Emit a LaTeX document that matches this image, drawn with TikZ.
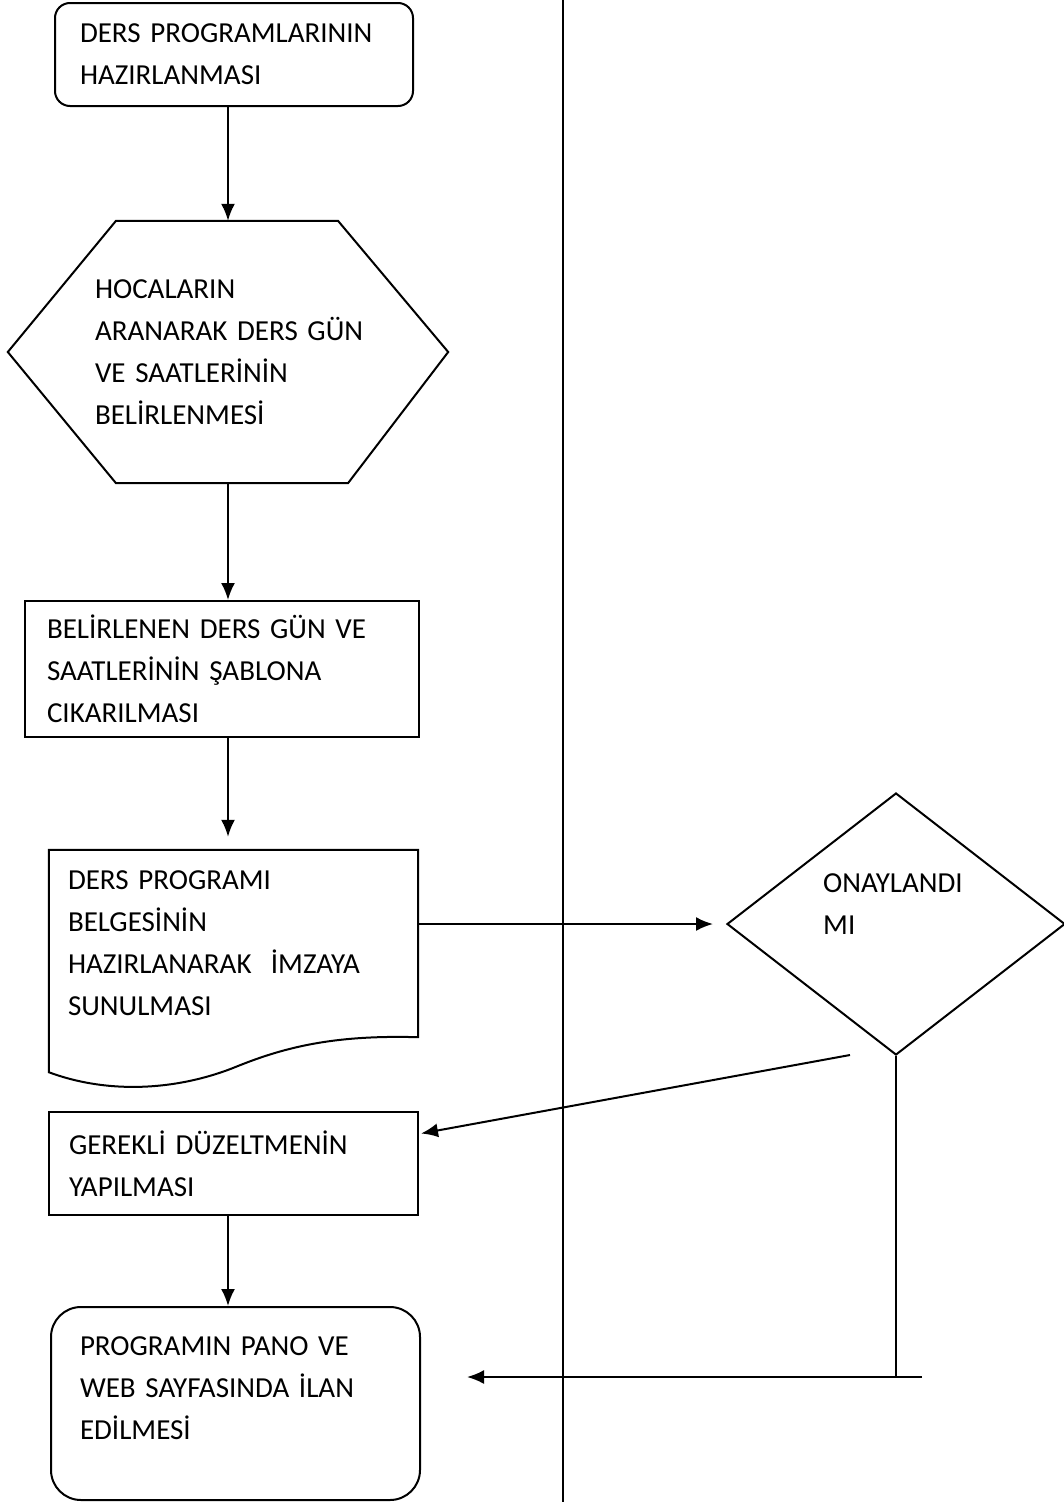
\documentclass[tikz,border=0pt]{standalone}
\usepackage{fontspec}
\setmainfont{Carlito}
\usetikzlibrary{shapes.geometric}
\usetikzlibrary{arrows.meta}
\usetikzlibrary{calc}

\begin{document}
\begin{tikzpicture} [
    x=1pt, y=-1pt,
    font=\fontsize{29}{42}\selectfont,
    block/.style    = { rectangle, draw=black, line width=2pt,
                        align=left, inner ysep=0pt },
    rblock/.style   = { block, rounded corners=15pt },
    shapebox/.style = { rectangle, align=left, inner ysep=0pt },
    decision/.style = { diamond, draw=black, line width=2pt, inner sep=0pt },
    line/.style     = { draw, line width=2pt, -{Latex[length=17pt, width=14pt]} },
    plain/.style    = { draw, line width=2pt },
  ]
\useasboundingbox (0,0) rectangle (1064,1502);

\node [rblock, minimum width=358, minimum height=103, text width=308, inner xsep=25]
    (start) at (234,54.5) {DERS PROGRAMLARININ\\HAZIRLANMASI};
\node [shapebox, minimum width=440, minimum height=262, text width=300, inner xsep=70]
    (hex) at (228,352) {\leftskip=17pt HOCALARIN\\ARANARAK DERS GÜN\\VE SAATLERİNİN\\BELİRLENMESİ\par};
\node [block, minimum width=394, minimum height=136, text width=350, inner xsep=22]
    (sablon) at (222,669) {BELİRLENEN DERS GÜN VE\\SAATLERİNİN ŞABLONA\\CIKARILMASI};
\node [shapebox, minimum width=369, minimum height=187, text width=331, inner xsep=19]
    (doc) at (233.5,943.5) {DERS PROGRAMI\\BELGESİNİN\\HAZIRLANARAK\ \ İMZAYA\\SUNULMASI};
\node [decision, minimum width=338, minimum height=262] (dec) at (896,924) {};
\node [anchor=west, align=left, inner sep=0pt] (decText) at (823,904) {ONAYLANDI\\MI};
\node [block, minimum width=369, minimum height=103, text width=329, inner xsep=20]
    (duz) at (233.5,1163.5) {GEREKLİ DÜZELTMENİN\\YAPILMASI};
\node [block, rounded corners=30pt, minimum width=369, minimum height=193, text width=311, inner xsep=29]
    (ilan) at (235.5,1403.5) {PROGRAMIN PANO VE\\WEB SAYFASINDA İLAN\\EDİLMESİ\\[-12pt]\mbox{}};

% shape outlines
\draw [line width=2pt] (hex.west) -- ($(hex.north)+(-112,0)$) -- ($(hex.north)+(110,0)$)
    -- (hex.east) -- ($(hex.south)+(120,0)$) -- ($(hex.south)+(-112,0)$) -- cycle;
\draw [line width=2pt] (doc.north west) -- (doc.north east) -- (doc.south east)
    .. controls (340,1035) and (290,1045) .. (238,1066)
    .. controls (180,1090) and (110,1095) .. ($(doc.south west)+(0,35)$) -- cycle;

% divider
\draw [line width=2pt] (563,0) -- (563,1502);

\coordinate (back) at (850,1055);
\coordinate (turn) at (922,1377);

\begin{scope} [every path/.style=line]
    \path (hex.north |- start.south) -- (hex.north);
    \path (hex.south) -- (hex.south |- sablon.north);
    \path (hex.south |- sablon.south) -- ([yshift=13]hex.south |- doc.north);
    \path (doc.east |- dec.west) -- ([xshift=-13]dec.west);
    \path (back) -- ($(duz.east)+(2,-30)$);
    \path (hex.south |- duz.south) -- (hex.south |- ilan.north);
    \path (turn) -- ([xshift=46]ilan.east |- turn);
\end{scope}
\path [plain] (dec.south) -- (dec.south |- turn);

\end{tikzpicture}
\end{document}
